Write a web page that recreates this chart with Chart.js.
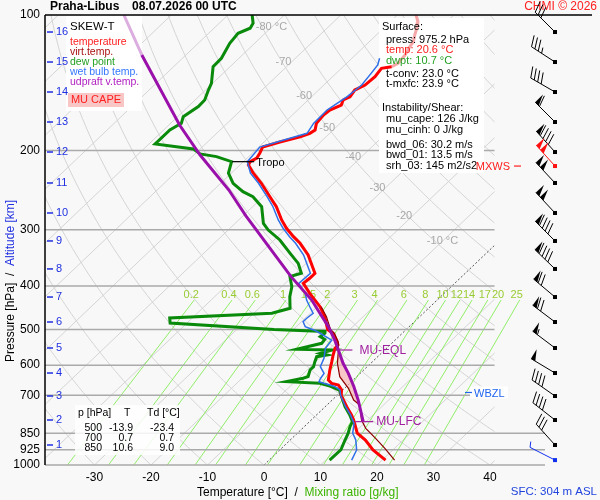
<!DOCTYPE html>
<html>
<head>
<meta charset="utf-8">
<title>SKEW-T Praha-Libus</title>
<script src="https://cdn.jsdelivr.net/npm/chart.js@4.4.1/dist/chart.umd.min.js"></script>
<style>
  html, body { margin: 0; padding: 0; background: #f8f8f8; }
  canvas { display: block; }
</style>
</head>
<body>
<canvas id="skewt" width="600" height="500"></canvas>
<script>
// temperature profile
var tempP = [100, 103.5, 106.2, 110.8, 114.6, 117.6, 122.7, 128, 130.3, 131.4, 137.1, 143.1, 146.8, 151.9, 154.5, 158.5,
  162.6, 166.8, 174.1, 180.1, 183.2, 186.4, 191.5, 196.6, 202.6, 207.9, 211.8, 215.4, 224.7, 236.6, 253.4, 266.7, 285.4,
  297.8, 310.9, 321.6, 341.5, 375, 384.6, 394.7, 415.4, 444.8, 468.2, 500, 509.6, 527.7, 541.2, 550.5, 569.6, 589.3, 615,
  647.4, 658.5, 664.1, 681.3, 700, 742, 774.4, 794.3, 808, 850, 880, 926, 975.2];
var tempT = [-56.7, -55.1, -54.3, -53.2, -52.2, -51.9, -51.2, -50.9, -51.4, -52.9, -52.5, -52.7, -53.6, -53.2, -53.8, -53.2,
  -54.3, -54.5, -54.2, -53.2, -53.5, -54.6, -57.2, -59.3, -58.7, -58.3, -58.8, -58.5, -56.1, -52.8, -48.8, -45.8, -42.4,
  -40.0, -37.2, -34.8, -31.2, -26.6, -26.6, -26.8, -23.8, -19.5, -16.8, -13.9, -12.3, -10.4, -9.2, -9.1, -8.2, -7.2, -6.0,
  -4.4, -3.2, -1.7, -0.2, 0.7, 3.8, 6.2, 7.5, 8.3, 10.6, 13.3, 16.5, 20.6];

// dew point
var dewP = [100, 104.3, 107, 109.8, 115.6, 124.8, 130.3, 141.9, 146.8, 154.5, 159.8, 168.3, 174.1, 180.1, 193.5, 198.5,
  203.6, 206.4, 211.8, 224.7, 236.6, 247, 253.4, 266.7, 290.4, 300.5, 316.2, 338.5, 356.4, 375, 381.5, 401.6, 422.7, 448.5,
  460.1, 471.3, 483.5, 500, 505, 509.6, 518.5, 525.7, 536.5, 553.2, 555.2, 564.7, 569.6, 574.5, 589.3, 604.6, 615, 636.4,
  641.7, 652.9, 658.3, 667.5, 681.3, 700, 742, 774.4, 801, 822, 850, 880, 926, 975.2];
var dewT = [-85.7, -84.0, -83.6, -84.8, -84.4, -83.1, -83.0, -80.2, -79.5, -78.3, -78.2, -79.0, -78.1, -78.9, -78.9, -71.2,
  -69.1, -65.7, -62.1, -60.5, -57.8, -54.5, -51.8, -48.4, -45.0, -42.9, -39.0, -34.7, -31.4, -29.0, -30.4, -28.2, -26.7, -24.5,
  -26.8, -44.0, -43.0, -23.4, -14.0, -13.7, -13.9, -12.6, -12.4, -15.7, -9.3, -10.8, -9.3, -10.8, -10.2, -9.5, -9.5, -8.6,
  -9.2, -11.5, -5.3, -3.0, -0.6, 0.7, 3.5, 5.9, 7.6, 8.1, 9.0, 9.7, 10.8, 10.7];

// wet bulb temperature
var wbP = [124.8, 129.1, 134.8, 143.1, 151.9, 162.6, 174.1, 183.2, 191.5, 196.6, 211.8, 224.7, 236.6, 253.4, 266.7, 285.4,
  297.8, 310.9, 321.6, 341.5, 375, 394.7, 415.4, 430, 445, 460, 472, 480.4, 492.7, 501, 505, 528, 550.5, 579.5, 604.6, 625.6,
  641.7, 652.9, 658.3, 669, 681, 700, 742, 774, 808, 850, 880, 926, 975.2];
var wbT = [-55.1, -54.2, -53.8, -53.3, -53.7, -54.8, -54.7, -54.0, -57.7, -59.8, -59.3, -56.6, -53.3, -49.3, -46.4, -43.0,
  -40.6, -37.9, -35.6, -32.0, -27.4, -27.6, -24.6, -23.1, -21.3, -19.5, -19.7, -19.7, -18.4, -16.3, -15.4, -11.2, -10.8, -9.2,
  -8.3, -6.4, -6.1, -5.75, -4.6, -2.1, -0.5, 0.6, 3.6, 6.0, 8.2, 9.8, 11.6, 13.6, 14.6];

// virtual temperature (lower part, above it lies under the temperature line)
var tvP = [444.8, 468.2, 500, 509.6, 532.1, 555.2, 594.3, 636.4, 675.4, 717.2, 735.6, 794.3, 829, 872.5, 918.5, 975.2];
var tvT = [-19.3, -16.5, -13.4, -12.0, -9.8, -8.2, -5.9, -3.0, 0.7, 3.8, 5.8, 8.9, 11.2, 14.8, 18.3, 22.2];

// MU parcel (updraft virtual temperature)
var parP = [100, 122.7, 175.6, 204.7, 244.9, 279.4, 381.5, 430, 460, 492.7, 527.7, 555.2, 594.3, 625.6, 669, 717.2, 801];
var parT = [-108.4, -97.8, -78.1, -68.9, -57.3, -49.5, -30.2, -22.2, -18.3, -14.3, -10.7, -8.2, -4.9, -2.1, 1.3, 4.6, 9.5];

var lfcP = 801, eqlP = 555.2, tropoP = 211.8, wbzlP = 690;

// altitude [km] and its pressure, winds at the same levels
var altKm = [16, 15, 14, 13, 12, 11, 10, 9, 8, 7, 6, 5, 4, 3, 2, 1];
var altP = [109.1, 127.2, 148.3, 172.9, 201.6, 236.2, 275.4, 317.8, 366.7, 423.4, 481.1, 549.5, 624.6, 702.6, 794.3, 902.7];
var windDir = [315, 303, 300, 315, 318, 317, 317, 315, 314, 310, 307, 307, 301, 305, 308, 318];
var windSpd = [30, 35, 40, 60, 90, 100, 100, 90, 90, 70, 70, 55, 50, 40, 40, 30];
var mxwsP = 216.6, mxwsDir = 318, mxwsSpd = 100;
var sfcP = 975.2, sfcDir = 297, sfcSpd = 5;

// axes
var isobars = [100, 200, 300, 400, 500, 600, 700, 850, 925, 1000];
var tempTicks = [-30, -20, -10, 0, 10, 20, 30, 40];
var isoLabT = [-80, -70, -60, -50, -40, -30, -20, -10];
var isoLabP = [106.3, 127.2, 151.5, 178.3, 206.9, 242.1, 279.9, 317.5];
var mixW = [0.2, 0.4, 0.6, 1, 1.5, 2, 3, 4, 6, 8, 10, 12, 14, 17, 20, 25];

// table
var tabP = ['500', '700', '850'];
var tabT = ['-13.9', '0.7', '10.6'];
var tabTd = ['-23.4', '0.7', '9.0'];

var FONT = '"Liberation Sans", Arial, sans-serif';
var SKEW = 83.6;   // °C of skew per decade of pressure
function skew(t, p) { return t + SKEW * Math.log10(1000 / p); }
function pts(ps, ts) { return ps.map(function (p, i) { return { x: skew(ts[i], p), y: p }; }); }

function mixT(w, p) {
  var e = w * p / (622 + w), l = Math.log(e / 6.112);
  return 243.5 * l / (17.67 - l);
}

function drawBarb(ctx, x, y, dir, spd, color) {
  var r = dir * Math.PI / 180, ux = Math.sin(r), uy = -Math.cos(r);
  var nx = -uy, ny = ux, len = 28, bl = 11, d = len;
  ctx.strokeStyle = color; ctx.fillStyle = color; ctx.lineWidth = 1;
  ctx.fillRect(x - 2, y - 2, 4, 4);
  ctx.beginPath(); ctx.moveTo(x, y); ctx.lineTo(x + ux * len, y + uy * len); ctx.stroke();
  var s = Math.round(spd / 5) * 5;
  while (s >= 50) {
    var bx = x + ux * d, by = y + uy * d;
    ctx.beginPath(); ctx.moveTo(bx, by);
    ctx.lineTo(bx + nx * bl, by + ny * bl);
    ctx.lineTo(bx - ux * 5, by - uy * 5);
    ctx.closePath(); ctx.fill();
    d -= 6; s -= 50;
  }
  while (s >= 10) {
    var cx = x + ux * d, cy = y + uy * d;
    ctx.beginPath(); ctx.moveTo(cx, cy);
    ctx.lineTo(cx + nx * bl + ux * 4, cy + ny * bl + uy * 4); ctx.stroke();
    d -= 4; s -= 10;
  }
  if (s >= 5) {
    var hx = x + ux * d, hy = y + uy * d;
    ctx.beginPath(); ctx.moveTo(hx, hy);
    ctx.lineTo(hx + nx * bl / 2 + ux * 2, hy + ny * bl / 2 + uy * 2); ctx.stroke();
  }
}

var background = {
  id: 'background',
  beforeDatasetsDraw: function (chart) {
    var ctx = chart.ctx, xs = chart.scales.x, ys = chart.scales.y, a = chart.chartArea;
    function X(v) { return xs.getPixelForValue(v); }
    function Y(p) { return ys.getPixelForValue(p); }
    var gridRight = X(40.8);
    ctx.save();

    // dry adiabats and isotherms
    ctx.save();
    ctx.beginPath(); ctx.rect(a.left, a.top, gridRight - a.left, a.bottom - a.top); ctx.clip();
    ctx.strokeStyle = '#d4d4d4'; ctx.lineWidth = 1;
    for (var th = -40; th <= 200; th += 10) {
      ctx.beginPath();
      for (var p = 1000; p >= 100; p -= 10) {
        var t = (th + 273.15) * Math.pow(p / 1000, 0.2857) - 273.15;
        if (p === 1000) ctx.moveTo(X(skew(t, p)), Y(p)); else ctx.lineTo(X(skew(t, p)), Y(p));
      }
      ctx.stroke();
    }
    for (var ti = -130; ti <= 40; ti += 10) {
      if (ti === 0) continue;
      ctx.beginPath(); ctx.moveTo(X(skew(ti, 1000)), Y(1000)); ctx.lineTo(X(skew(ti, 100)), Y(100)); ctx.stroke();
    }
    ctx.strokeStyle = '#555'; ctx.setLineDash([2, 2]);
    ctx.beginPath(); ctx.moveTo(X(skew(0, 1000)), Y(1000)); ctx.lineTo(X(skew(0, 100)), Y(100)); ctx.stroke();
    ctx.setLineDash([]);
    ctx.restore();

    // mixing ratio lines
    ctx.save();
    ctx.beginPath(); ctx.rect(a.left, a.top, a.right - a.left, a.bottom - a.top); ctx.clip();
    ctx.strokeStyle = 'rgba(120,235,70,0.8)'; ctx.lineWidth = 1;
    mixW.forEach(function (w) {
      ctx.beginPath();
      ctx.moveTo(X(skew(mixT(w, 1000), 1000)), Y(1000));
      ctx.lineTo(X(skew(mixT(w, 430), 430)), Y(430));
      ctx.stroke();
    });
    ctx.restore();
    ctx.font = '11px ' + FONT; ctx.fillStyle = '#99cc33'; ctx.textAlign = 'center'; ctx.textBaseline = 'middle';
    mixW.forEach(function (w) { ctx.fillText(String(w), X(skew(mixT(w, 430), 430)) - 3, 295); });

    // isobars
    ctx.strokeStyle = '#aaaaaa'; ctx.lineWidth = 1.5;
    isobars.forEach(function (p) {
      if (p === 100) return;
      ctx.beginPath(); ctx.moveTo(a.left, Y(p)); ctx.lineTo(p >= 850 ? a.right : gridRight, Y(p)); ctx.stroke();
    });

    // isotherm labels
    ctx.fillStyle = '#a8a8a8'; ctx.textAlign = 'left'; ctx.font = '11px ' + FONT;
    isoLabT.forEach(function (t, i) {
      var txt = (i === 0 || i === isoLabT.length - 1) ? t + ' °C' : String(t);
      ctx.fillText(txt, X(skew(t, isoLabP[i])) - 16, Y(isoLabP[i]));
    });

    // boxes under the profiles
    ctx.fillStyle = '#ffffff';
    ctx.fillRect(66, 16, 76, 95);
    ctx.fillRect(379, 18, 105, 155);
    ctx.fillStyle = 'rgba(255,255,255,0.85)';
    ctx.fillRect(75, 405, 105, 50);
    ctx.fillStyle = '#f9c6c6';
    ctx.fillRect(68, 93, 56, 14);

    // MU CAPE area between parcel and virtual temperature
    ctx.fillStyle = 'rgba(248,180,180,0.7)';
    ctx.beginPath();
    var first = true;
    parP.forEach(function (p, i) {
      if (p < eqlP || p > lfcP) return;
      var px = X(skew(parT[i], p)), py = Y(p);
      if (first) { ctx.moveTo(px, py); first = false; } else ctx.lineTo(px, py);
    });
    for (var k = tvP.length - 1; k >= 0; k--) {
      if (tvP[k] < eqlP || tvP[k] > lfcP) continue;
      ctx.lineTo(X(skew(tvT[k], tvP[k])), Y(tvP[k]));
    }
    ctx.closePath(); ctx.fill();
    ctx.restore();
  }
};

var overlay = {
  id: 'overlay',
  afterDatasetsDraw: function (chart) {
    var ctx = chart.ctx, xs = chart.scales.x, ys = chart.scales.y, a = chart.chartArea;
    function X(v) { return xs.getPixelForValue(v); }
    function Y(p) { return ys.getPixelForValue(p); }
    ctx.save();
    ctx.textBaseline = 'middle';

    // frame
    ctx.strokeStyle = '#000'; ctx.lineWidth = 1.5;
    ctx.beginPath(); ctx.moveTo(a.left, a.top); ctx.lineTo(592, a.top); ctx.stroke();
    ctx.beginPath(); ctx.moveTo(a.left, a.top); ctx.lineTo(a.left, a.bottom); ctx.stroke();

    // title
    ctx.fillStyle = '#000'; ctx.font = 'bold 12px ' + FONT; ctx.textAlign = 'left';
    ctx.fillText('Praha-Libus', 50, 7);
    ctx.fillText('08.07.2026 00 UTC', 132, 7);
    ctx.fillStyle = '#ff2020'; ctx.font = '12px ' + FONT; ctx.textAlign = 'right';
    ctx.fillText('CHMI © 2026', 597, 7);

    // pressure labels
    ctx.fillStyle = '#000'; ctx.font = '12px ' + FONT; ctx.textAlign = 'right';
    isobars.forEach(function (p) { ctx.fillText(String(p), 40, Y(p)); });
    // temperature labels
    ctx.textAlign = 'center';
    tempTicks.forEach(function (t) { ctx.fillText(String(t), X(t), 478); });

    // altitude labels
    ctx.fillStyle = '#2030e0'; ctx.strokeStyle = '#2030e0'; ctx.lineWidth = 1.5; ctx.textAlign = 'left'; ctx.font = '11px ' + FONT;
    altKm.forEach(function (km, i) {
      var y = Y(altP[i]);
      ctx.beginPath(); ctx.moveTo(47, y); ctx.lineTo(53, y); ctx.stroke();
      ctx.fillText(String(km), 56, y);
    });

    // axis titles
    ctx.font = '12px ' + FONT; ctx.textAlign = 'left';
    var bx = 197;
    ctx.fillStyle = '#000'; ctx.fillText('Temperature [°C]', bx, 493); bx += ctx.measureText('Temperature [°C]').width;
    ctx.fillText('  /  ', bx, 493); bx += ctx.measureText('  /  ').width;
    ctx.fillStyle = '#3cb300'; ctx.fillText('Mixing ratio [g/kg]', bx, 493);
    ctx.save();
    ctx.translate(11, 362); ctx.rotate(-Math.PI / 2);
    var lx = 0;
    ctx.fillStyle = '#000'; ctx.fillText('Pressure [hPa]', lx, 0); lx += ctx.measureText('Pressure [hPa]').width;
    ctx.fillText('  /  ', lx, 0); lx += ctx.measureText('  /  ').width;
    ctx.fillStyle = '#2030e0'; ctx.fillText('Altitude [km]', lx, 0);
    ctx.restore();
    ctx.fillStyle = '#2244dd'; ctx.font = '11.5px ' + FONT; ctx.textAlign = 'right';
    ctx.fillText('SFC: 304 m ASL', 597, 492);

    // legend
    ctx.textAlign = 'left';
    ctx.fillStyle = '#000'; ctx.font = '11.5px ' + FONT; ctx.fillText('SKEW-T', 70, 27);
    ctx.font = '10.5px ' + FONT;
    var leg = [['temperature', '#ff2020'], ['virt.temp.', '#aa1010'], ['dew point', '#22a022'],
      ['wet bulb temp.', '#3377ff'], ['udpraft v.temp.', '#b020c0']];
    leg.forEach(function (l, i) { ctx.fillStyle = l[1]; ctx.fillText(l[0], 70, 42 + i * 10); });
    ctx.fillStyle = '#ff2020'; ctx.font = '11px ' + FONT; ctx.textAlign = 'center';
    ctx.fillText('MU CAPE', 96, 100);

    // surface / instability box
    ctx.textAlign = 'left'; ctx.font = '11px ' + FONT;
    var box = [['Surface:', 382, 27, '#000'], ['press: 975.2 hPa', 386, 39.5, '#000'], ['temp: 20.6 °C', 386, 50, '#ff2020'],
      ['dwpt: 10.7 °C', 386, 60.5, '#22a022'], ['t-conv: 23.0 °C', 386, 74, '#000'], ['t-mxfc: 23.9 °C', 386, 84, '#000'],
      ['Instability/Shear:', 382, 108, '#000'], ['mu_cape: 126 J/kg', 386, 119, '#000'], ['mu_cinh: 0 J/kg', 386, 129.5, '#000'],
      ['bwd_06: 30.2 m/s', 386, 144.5, '#000'], ['bwd_01: 13.5 m/s', 386, 155, '#000'], ['srh_03: 145 m2/s2', 386, 165.5, '#000']];
    box.forEach(function (b) { ctx.fillStyle = b[3]; ctx.fillText(b[0], b[1], b[2]); });

    // table
    ctx.fillStyle = '#000'; ctx.font = '10.5px ' + FONT;
    ctx.fillText('p [hPa]', 78, 413); ctx.fillText('T', 124, 413); ctx.fillText('Td [°C]', 147, 413);
    ctx.textAlign = 'right';
    tabP.forEach(function (p, i) {
      var y = 428 + i * 10;
      ctx.fillText(p, 102, y); ctx.fillText(tabT[i], 133, y); ctx.fillText(tabTd[i], 174, y);
    });

    // markers
    function parcelX(p) {
      var i = parP.indexOf(p);
      return X(skew(parT[i], p));
    }
    ctx.font = '12px ' + FONT; ctx.textAlign = 'left'; ctx.lineWidth = 1.2;
    var ex = parcelX(eqlP), ey = Y(eqlP);
    ctx.strokeStyle = '#a020a0'; ctx.fillStyle = '#a020a0';
    ctx.beginPath(); ctx.moveTo(ex - 3, ey); ctx.lineTo(ex + 14, ey); ctx.stroke();
    ctx.fillText('MU-EQL', ex + 21, ey + 1);
    var fx = parcelX(lfcP), fy = Y(lfcP);
    ctx.beginPath(); ctx.moveTo(fx - 8, fy); ctx.lineTo(fx + 10, fy); ctx.stroke();
    ctx.fillText('MU-LFC', fx + 13, fy);
    var ti2 = tempP.indexOf(tropoP), tx = X(skew(tempT[ti2], tropoP)), ty = Y(tropoP);
    ctx.strokeStyle = '#000'; ctx.fillStyle = '#000'; ctx.font = '11px ' + FONT;
    ctx.beginPath(); ctx.moveTo(tx - 18, ty); ctx.lineTo(tx + 4, ty); ctx.stroke();
    ctx.fillText('Tropo', tx + 6, ty + 1);

    var wy = Y(wbzlP);
    ctx.fillStyle = '#ffffff'; ctx.fillRect(470, wy - 6, 38, 12);
    ctx.strokeStyle = '#2266ee'; ctx.fillStyle = '#2266ee';
    ctx.beginPath(); ctx.moveTo(465, wy); ctx.lineTo(472, wy); ctx.stroke();
    ctx.fillText('WBZL', 474, wy + 1);
    var my = Y(mxwsP);
    ctx.fillStyle = '#ff2020'; ctx.strokeStyle = '#ff2020'; ctx.textAlign = 'right';
    ctx.fillText('MXWS', 510, my + 1);
    ctx.beginPath(); ctx.moveTo(514, my); ctx.lineTo(521, my); ctx.stroke();

    // wind barbs
    altP.forEach(function (p, i) { drawBarb(ctx, 555, Y(p), windDir[i], windSpd[i], '#000'); });
    drawBarb(ctx, 555, Y(mxwsP), mxwsDir, mxwsSpd, '#ff1010');
    ctx.strokeStyle = '#aaaaaa'; ctx.lineWidth = 1.5;
    drawBarb(ctx, 555, Y(sfcP), sfcDir, sfcSpd, '#1030ee');
    ctx.restore();
  }
};

function paleSeg(limit, pale, solid) {
  return function (c) { return c.p1.parsed.y <= limit ? pale : solid; };
}

new Chart(document.getElementById('skewt'), {
  type: 'scatter',
  data: {
    datasets: [
      { label: 'updraft v.temp.', data: pts(parP, parT), showLine: true, pointRadius: 0, borderWidth: 3,
        borderColor: '#9a10aa', segment: { borderColor: paleSeg(122.7, '#dcaee0', '#9a10aa') }, order: 0 },
      { label: 'wet bulb temp.', data: pts(wbP, wbT), showLine: true, pointRadius: 0, borderWidth: 1.5,
        borderColor: '#2f6fe8', order: 1 },
      { label: 'virt.temp.', data: pts(tvP, tvT), showLine: true, pointRadius: 0, borderWidth: 1.2,
        borderColor: '#8b0000', order: 2 },
      { label: 'temperature', data: pts(tempP, tempT), showLine: true, pointRadius: 0, borderWidth: 3,
        borderColor: '#ff0000', segment: { borderColor: paleSeg(130.3, '#f6a8a8', '#ff0000') }, order: 3 },
      { label: 'dew point', data: pts(dewP, dewT), showLine: true, pointRadius: 0, borderWidth: 3,
        borderColor: '#0a8a0a', order: 4 }
    ]
  },
  options: {
    responsive: false,
    animation: false,
    devicePixelRatio: 1,
    events: [],
    layout: { padding: { left: 45, right: 55, top: 15, bottom: 35 } },
    scales: {
      x: { type: 'linear', min: -38.76, max: 49.73, display: false },
      y: { type: 'logarithmic', reverse: true, min: 100, max: 1000, display: false }
    },
    plugins: { legend: { display: false }, tooltip: { enabled: false } }
  },
  plugins: [background, overlay]
});
</script>
</body>
</html>
